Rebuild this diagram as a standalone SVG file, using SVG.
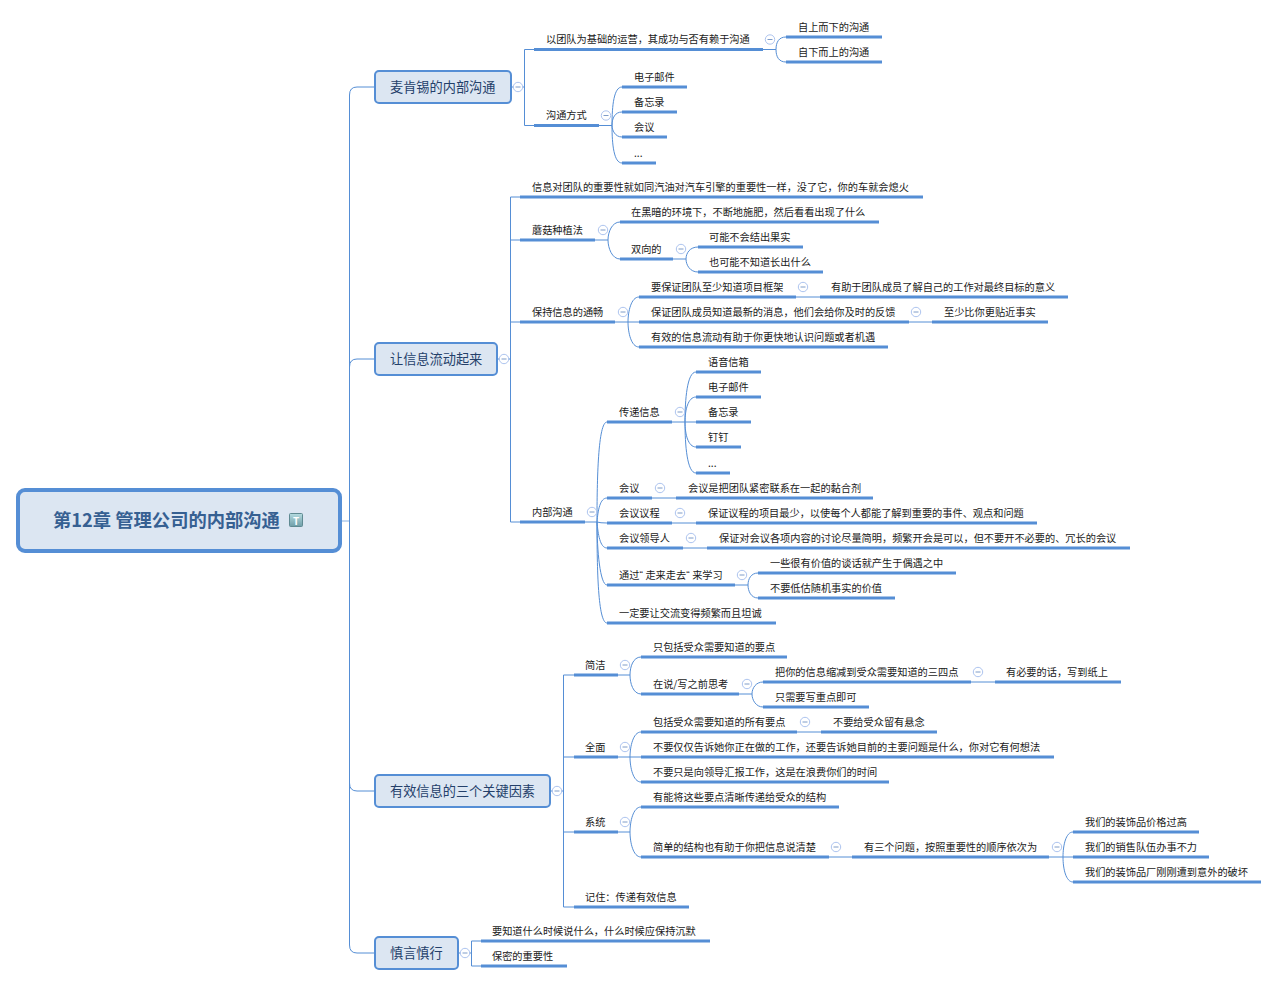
<svg xmlns="http://www.w3.org/2000/svg" width="1278" height="986" viewBox="0 0 1278 986">
<style>
text{font-family:"Noto Sans CJK SC","Liberation Sans",sans-serif;}
.t{font-size:10.2px;fill:#1a1a1a;}
.m{font-size:13.2px;fill:#24406a;}
.r{font-size:18.3px;fill:#366092;font-weight:700;}
.q{font-family:"Liberation Sans",sans-serif;letter-spacing:2.6px;}
.b{fill:#dce6f2;stroke:#558ed5;stroke-width:2;}
.u{stroke:#558ed5;stroke-width:3;fill:none;}
.c{stroke:#558ed5;stroke-width:1;fill:none;}
.o{fill:#fff;stroke:#adc4ef;stroke-width:1;}
.d{stroke:#7f9cc8;stroke-width:1;}
</style>
<defs>
<g id="col"><circle class="o" r="4.7"/><line class="d" x1="-2.5" x2="2.5"/></g>
<linearGradient id="ic" x1="0" y1="0" x2="0" y2="1"><stop offset="0" stop-color="#b5dbe0"/><stop offset="1" stop-color="#6f9ea8"/></linearGradient>
</defs>
<g id="connectors">
<path class="c" d="M340 521H349.5" stroke-opacity="0.7"/>
<path class="c" d="M375 87H357Q349.5 87 349.5 95V945Q349.5 953 357 953H375M349.5 367Q349.5 359 357 359H375M349.5 783Q349.5 791 357 791H375"/>
<path class="c" d="M511 87H524.5M534 49.5H524.5V125.5H534"/>
<path class="c" d="M763 49.5H776M776 49.5C776 42 779 37 786 37M776 49.5C776 57 779 62 786 62"/>
<path class="c" d="M599 125.5H612M612 125.5C612 105 614 87 622 87M612 125.5C612 118 615 112 622 112M612 125.5C612 130 615 137 622 137M612 125.5C612 145 614 163 622 163"/>
<path class="c" d="M497 359H510.5M520 197H510.5V522H520M510.5 240H520M510.5 322H520"/>
<path class="c" d="M595 240H608M608 240C608 232 612 222 620 222M608 240C608 248 612 259 620 259"/>
<path class="c" d="M673 259H686M686 259C686 253 690 247 698 247M686 259C686 265 690 272 698 272"/>
<path class="c" d="M615 322H628M628 322C628 312 631 297 639 297M628 322H639M628 322C628 332 631 347 639 347"/>
<path class="c" d="M796 297H820M909 322H932"/>
<path class="c" d="M585 522H597M597 522C597 480 598 422 607 422M597 522C598 510 600 498 607 498M597 522Q600 523 607 523M597 522C598 534 600 548 607 548M597 522C597 550 600 585 607 585M597 522C597 570 598 623 607 623"/>
<path class="c" d="M672 422H685M685 422C685 400 687 372 696 372M685 422C685 410 688 397 696 397M685 422H696M685 422C685 434 688 447 696 447M685 422C685 445 687 473 696 473"/>
<path class="c" d="M652 498H676M672 523H696M683 548H707"/>
<path class="c" d="M735 585H748M748 585C748 579 751 573 758 573M748 585C748 591 751 598 758 598"/>
<path class="c" d="M551 791H563.5M574 675H563.5V907H574M563.5 757H574M563.5 832H574"/>
<path class="c" d="M618 675H630M630 675C630 667 633 657 641 657M630 675C630 683 633 694 641 694"/>
<path class="c" d="M739 694H752M752 694C752 688 756 682 763 682M752 694C752 700 756 707 763 707M971 682H995"/>
<path class="c" d="M618 757H630M630 757C630 747 633 732 641 732M630 757H641M630 757C630 767 633 782 641 782M797 732H821"/>
<path class="c" d="M618 832H630M630 832C630 822 633 807 641 807M630 832C630 842 633 857 641 857M829 857H852"/>
<path class="c" d="M1049 857H1063M1063 857C1063 845 1066 832 1073 832M1063 857H1073M1063 857C1063 869 1066 882 1073 882"/>
<path class="c" d="M458 953H471.5M481 941H471.5V966H481"/>
</g>
<g id="root"><rect x="18" y="490" width="322" height="61" rx="7" fill="#dce6f2" stroke="#558ed5" stroke-width="4"/><text class="r" x="53" y="527">第12章 管理公司的内部沟通</text><rect x="289.500" y="513.500" width="13" height="13" rx="1" fill="url(#ic)" stroke="#5f8a92"/><text x="296" y="524.500" text-anchor="middle" font-size="10" font-weight="700" fill="#fff">T</text></g>
<g id="t1"><rect class="b" x="375" y="71" width="136" height="32" rx="4"/><text class="m" x="390" y="92">麦肯锡的内部沟通</text><use href="#col" x="518" y="87"/></g>
<g id="t2"><rect class="b" x="375" y="343" width="122" height="32" rx="4"/><text class="m" x="390" y="364">让信息流动起来</text><use href="#col" x="504" y="359"/></g>
<g id="t3"><rect class="b" x="375" y="775" width="175" height="32" rx="4"/><text class="m" x="390" y="796">有效信息的三个关键因素</text><use href="#col" x="557" y="791"/></g>
<g id="t4"><rect class="b" x="375" y="937" width="83" height="32" rx="4"/><text class="m" x="390" y="958">慎言慎行</text><use href="#col" x="465" y="953"/></g>
<g id="n1"><path class="u" d="M534 49.500H763"/><text class="t" x="546" y="43">以团队为基础的运营，其成功与否有赖于沟通</text><use href="#col" x="770" y="39.500"/></g>
<g id="n2"><path class="u" d="M786 37H882"/><text class="t" x="798" y="31">自上而下的沟通</text></g>
<g id="n3"><path class="u" d="M786 62H882"/><text class="t" x="798" y="56">自下而上的沟通</text></g>
<g id="n4"><path class="u" d="M534 125.500H599"/><text class="t" x="546" y="119">沟通方式</text><use href="#col" x="606" y="115.500"/></g>
<g id="n5"><path class="u" d="M622 87H687"/><text class="t" x="634" y="81">电子邮件</text></g>
<g id="n6"><path class="u" d="M622 112H677"/><text class="t" x="634" y="106">备忘录</text></g>
<g id="n7"><path class="u" d="M622 137H667"/><text class="t" x="634" y="131">会议</text></g>
<g id="n8"><path class="u" d="M622 163H656"/><text class="t" x="634" y="157">...</text></g>
<g id="n9"><path class="u" d="M520 197H923"/><text class="t" x="532" y="191">信息对团队的重要性就如同汽油对汽车引擎的重要性一样，没了它，你的车就会熄火</text></g>
<g id="n10"><path class="u" d="M520 240H595"/><text class="t" x="532" y="234">蘑菇种植法</text><use href="#col" x="603" y="230"/></g>
<g id="n11"><path class="u" d="M620 222H879"/><text class="t" x="631" y="216">在黑暗的环境下，不断地施肥，然后看看出现了什么</text></g>
<g id="n12"><path class="u" d="M620 259H673"/><text class="t" x="631" y="253">双向的</text><use href="#col" x="681" y="249"/></g>
<g id="n13"><path class="u" d="M698 247H803"/><text class="t" x="709" y="241">可能不会结出果实</text></g>
<g id="n14"><path class="u" d="M698 272H823"/><text class="t" x="709" y="266">也可能不知道长出什么</text></g>
<g id="n15"><path class="u" d="M520 322H615"/><text class="t" x="532" y="316">保持信息的通畅</text><use href="#col" x="623" y="312"/></g>
<g id="n16"><path class="u" d="M639 297H796"/><text class="t" x="651" y="291">要保证团队至少知道项目框架</text><use href="#col" x="803" y="287"/></g>
<g id="n17"><path class="u" d="M820 297H1068"/><text class="t" x="831" y="291">有助于团队成员了解自己的工作对最终目标的意义</text></g>
<g id="n18"><path class="u" d="M639 322H909"/><text class="t" x="651" y="316">保证团队成员知道最新的消息，他们会给你及时的反馈</text><use href="#col" x="916" y="312"/></g>
<g id="n19"><path class="u" d="M932 322H1048"/><text class="t" x="944" y="316">至少比你更贴近事实</text></g>
<g id="n20"><path class="u" d="M639 347H888"/><text class="t" x="651" y="341">有效的信息流动有助于你更快地认识问题或者机遇</text></g>
<g id="n21"><path class="u" d="M520 522H585"/><text class="t" x="532" y="516">内部沟通</text><use href="#col" x="592" y="512"/></g>
<g id="n22"><path class="u" d="M607 422H672"/><text class="t" x="619" y="416">传递信息</text><use href="#col" x="680" y="412"/></g>
<g id="n23"><path class="u" d="M696 372H761"/><text class="t" x="708" y="366">语音信箱</text></g>
<g id="n24"><path class="u" d="M696 397H761"/><text class="t" x="708" y="391">电子邮件</text></g>
<g id="n25"><path class="u" d="M696 422H751"/><text class="t" x="708" y="416">备忘录</text></g>
<g id="n26"><path class="u" d="M696 447H741"/><text class="t" x="708" y="441">钉钉</text></g>
<g id="n27"><path class="u" d="M696 473H730"/><text class="t" x="708" y="467">...</text></g>
<g id="n28"><path class="u" d="M607 498H652"/><text class="t" x="619" y="492">会议</text><use href="#col" x="660" y="488"/></g>
<g id="n29"><path class="u" d="M676 498H873"/><text class="t" x="688" y="492">会议是把团队紧密联系在一起的黏合剂</text></g>
<g id="n30"><path class="u" d="M607 523H672"/><text class="t" x="619" y="517">会议议程</text><use href="#col" x="680" y="513"/></g>
<g id="n31"><path class="u" d="M696 523H1037"/><text class="t" x="708" y="517">保证议程的项目最少，以使每个人都能了解到重要的事件、观点和问题</text></g>
<g id="n32"><path class="u" d="M607 548H683"/><text class="t" x="619" y="542">会议领导人</text><use href="#col" x="691" y="538"/></g>
<g id="n33"><path class="u" d="M707 548H1130"/><text class="t" x="719" y="542">保证对会议各项内容的讨论尽量简明，频繁开会是可以，但不要开不必要的、冗长的会议</text></g>
<g id="n34"><path class="u" d="M607 585H735"/><text class="t" x="619" y="579">通过<tspan class="q">“</tspan>走来走去<tspan class="q">“</tspan>来学习</text><use href="#col" x="742" y="575"/></g>
<g id="n35"><path class="u" d="M758 573H956"/><text class="t" x="770" y="567">一些很有价值的谈话就产生于偶遇之中</text></g>
<g id="n36"><path class="u" d="M758 598H895"/><text class="t" x="770" y="592">不要低估随机事实的价值</text></g>
<g id="n37"><path class="u" d="M607 623H776"/><text class="t" x="619" y="617">一定要让交流变得频繁而且坦诚</text></g>
<g id="n38"><path class="u" d="M574 675H618"/><text class="t" x="585" y="669">简洁</text><use href="#col" x="625" y="665"/></g>
<g id="n39"><path class="u" d="M641 657H787"/><text class="t" x="653" y="651">只包括受众需要知道的要点</text></g>
<g id="n40"><path class="u" d="M641 694H739"/><text class="t" x="653" y="688">在说/写之前思考</text><use href="#col" x="747" y="684"/></g>
<g id="n41"><path class="u" d="M763 682H971"/><text class="t" x="775" y="676">把你的信息缩减到受众需要知道的三四点</text><use href="#col" x="978" y="672"/></g>
<g id="n42"><path class="u" d="M995 682H1121"/><text class="t" x="1006" y="676">有必要的话，写到纸上</text></g>
<g id="n43"><path class="u" d="M763 707H869"/><text class="t" x="775" y="701">只需要写重点即可</text></g>
<g id="n44"><path class="u" d="M574 757H618"/><text class="t" x="585" y="751">全面</text><use href="#col" x="625" y="747"/></g>
<g id="n45"><path class="u" d="M641 732H797"/><text class="t" x="653" y="726">包括受众需要知道的所有要点</text><use href="#col" x="805" y="722"/></g>
<g id="n46"><path class="u" d="M821 732H937"/><text class="t" x="833" y="726">不要给受众留有悬念</text></g>
<g id="n47"><path class="u" d="M641 757H1054"/><text class="t" x="653" y="751">不要仅仅告诉她你正在做的工作，还要告诉她目前的主要问题是什么，你对它有何想法</text></g>
<g id="n48"><path class="u" d="M641 782H889"/><text class="t" x="653" y="776">不要只是向领导汇报工作，这是在浪费你们的时间</text></g>
<g id="n49"><path class="u" d="M574 832H618"/><text class="t" x="585" y="826">系统</text><use href="#col" x="625" y="822"/></g>
<g id="n50"><path class="u" d="M641 807H839"/><text class="t" x="653" y="801">有能将这些要点清晰传递给受众的结构</text></g>
<g id="n51"><path class="u" d="M641 857H829"/><text class="t" x="653" y="851">简单的结构也有助于你把信息说清楚</text><use href="#col" x="836" y="847"/></g>
<g id="n52"><path class="u" d="M852 857H1049"/><text class="t" x="864" y="851">有三个问题，按照重要性的顺序依次为</text><use href="#col" x="1057" y="847"/></g>
<g id="n53"><path class="u" d="M1073 832H1199"/><text class="t" x="1085" y="826">我们的装饰品价格过高</text></g>
<g id="n54"><path class="u" d="M1073 857H1209"/><text class="t" x="1085" y="851">我们的销售队伍办事不力</text></g>
<g id="n55"><path class="u" d="M1073 882H1261"/><text class="t" x="1085" y="876">我们的装饰品厂刚刚遭到意外的破坏</text></g>
<g id="n56"><path class="u" d="M574 907H689"/><text class="t" x="585" y="901">记住：传递有效信息</text></g>
<g id="n57"><path class="u" d="M481 941H710"/><text class="t" x="492" y="935">要知道什么时候说什么，什么时候应保持沉默</text></g>
<g id="n58"><path class="u" d="M481 966H567"/><text class="t" x="492" y="960">保密的重要性</text></g>
</svg>
